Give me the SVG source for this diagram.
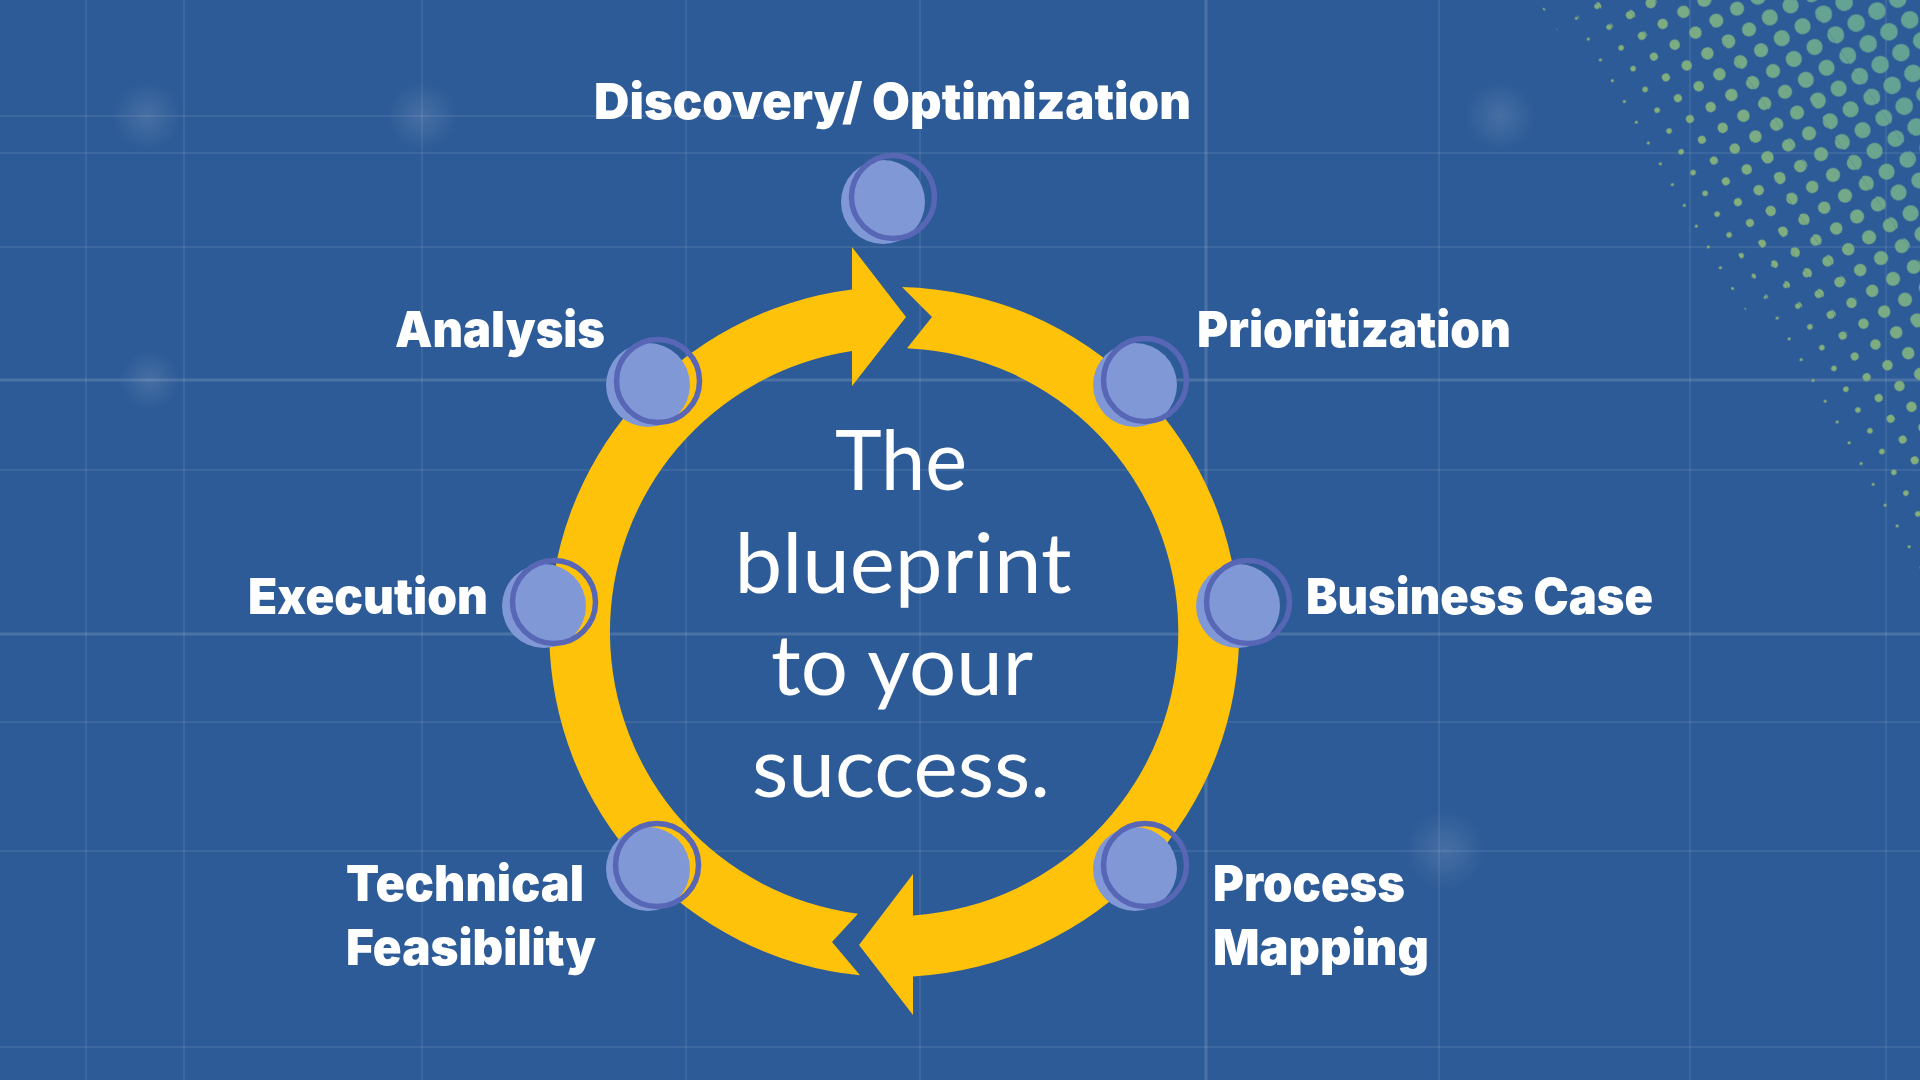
<svg xmlns="http://www.w3.org/2000/svg" width="1920" height="1080" viewBox="0 0 1920 1080">
  <style>
    .grid line { stroke: #ffffff; stroke-opacity: 0.08; stroke-width: 2; }
    .grid line.strong { stroke-opacity: 0.14; stroke-width: 3; }
    .ring { fill: #FFC20A; }
    .nfill { fill: #8099D6; }
    .nring { fill: none; stroke: #5866B6; stroke-width: 5.5; }
    .label { font-family: Inter, "Noto Sans", "Liberation Sans", sans-serif; font-weight: 900; font-size: 50px; fill: #ffffff; }
    .center { font-family: Lato, "Open Sans", "Liberation Sans", sans-serif; font-weight: 400; font-size: 84px; fill: #ffffff; text-anchor: middle; }
  </style>
  <defs>
    <radialGradient id="glow">
      <stop offset="0" stop-color="#ffffff" stop-opacity="0.12"/>
      <stop offset="1" stop-color="#ffffff" stop-opacity="0"/>
    </radialGradient>
    <linearGradient id="dotGrad" gradientUnits="userSpaceOnUse" x1="1620" y1="300" x2="1900" y2="110">
      <stop offset="0" stop-color="#9cb96a"/>
      <stop offset="1" stop-color="#64a294"/>
    </linearGradient>
    <pattern id="p0" width="24" height="24" patternUnits="userSpaceOnUse" patternTransform="rotate(-30)"><circle cx="12" cy="12" r="1.6" fill="#fff"/></pattern>
    <pattern id="p1" width="24" height="24" patternUnits="userSpaceOnUse" patternTransform="rotate(-30)"><circle cx="12" cy="12" r="2.8" fill="#fff"/></pattern>
    <pattern id="p2" width="24" height="24" patternUnits="userSpaceOnUse" patternTransform="rotate(-30)"><circle cx="12" cy="12" r="4.0" fill="#fff"/></pattern>
    <pattern id="p3" width="24" height="24" patternUnits="userSpaceOnUse" patternTransform="rotate(-30)"><circle cx="12" cy="12" r="5.2" fill="#fff"/></pattern>
    <pattern id="p4" width="24" height="24" patternUnits="userSpaceOnUse" patternTransform="rotate(-30)"><circle cx="12" cy="12" r="6.2" fill="#fff"/></pattern>
    <pattern id="p5" width="24" height="24" patternUnits="userSpaceOnUse" patternTransform="rotate(-30)"><circle cx="12" cy="12" r="7.1" fill="#fff"/></pattern>
    <pattern id="p6" width="24" height="24" patternUnits="userSpaceOnUse" patternTransform="rotate(-30)"><circle cx="12" cy="12" r="8.0" fill="#fff"/></pattern>
    <pattern id="p7" width="24" height="24" patternUnits="userSpaceOnUse" patternTransform="rotate(-30)"><circle cx="12" cy="12" r="8.8" fill="#fff"/></pattern>
    <mask id="dotMask" maskUnits="userSpaceOnUse" x="1450" y="0" width="470" height="640">
      <polygon fill="url(#p0)" points="1530,-10 1560,-10 1984,620 1954,620"/>
      <polygon fill="url(#p1)" points="1560,-10 1588,-10 2012,620 1984,620"/>
      <polygon fill="url(#p2)" points="1588,-10 1616,-10 2040,620 2012,620"/>
      <polygon fill="url(#p3)" points="1616,-10 1648,-10 2072,620 2040,620"/>
      <polygon fill="url(#p4)" points="1648,-10 1688,-10 2112,620 2072,620"/>
      <polygon fill="url(#p5)" points="1688,-10 1736,-10 2160,620 2112,620"/>
      <polygon fill="url(#p6)" points="1736,-10 1800,-10 2224,620 2160,620"/>
      <polygon fill="url(#p7)" points="1800,-10 1930,-10 2354,620 2224,620"/>
    </mask>
  </defs>

  <!-- background -->
  <rect x="0" y="0" width="1920" height="1080" fill="#2d5b97"/>
  <g class="grid">
    <line x1="0" y1="116" x2="760" y2="116"/>
    <line x1="0" y1="153" x2="1920" y2="153"/>
    <line x1="0" y1="247" x2="1920" y2="247"/>
    <line class="strong" x1="0" y1="380" x2="1920" y2="380"/>
    <line x1="0" y1="470" x2="1920" y2="470"/>
    <line class="strong" x1="0" y1="634" x2="1920" y2="634"/>
    <line x1="0" y1="722" x2="1920" y2="722"/>
    <line x1="0" y1="851" x2="1920" y2="851"/>
    <line x1="0" y1="1047" x2="1920" y2="1047"/>
    <line x1="86" y1="0" x2="86" y2="1080"/>
    <line x1="184" y1="0" x2="184" y2="1080"/>
    <line x1="422" y1="0" x2="422" y2="1080"/>
    <line x1="686" y1="0" x2="686" y2="1080"/>
    <line x1="920" y1="0" x2="920" y2="1080"/>
    <line class="strong" x1="1206" y1="0" x2="1206" y2="1080"/>
    <line x1="1439" y1="0" x2="1439" y2="1080"/>
    <line x1="1690" y1="0" x2="1690" y2="1080"/>
    <line x1="1886" y1="0" x2="1886" y2="1080"/>
  </g>
  <circle cx="147" cy="116" r="35" fill="url(#glow)"/>
  <circle cx="422" cy="116" r="35" fill="url(#glow)"/>
  <circle cx="1500" cy="116" r="35" fill="url(#glow)"/>
  <circle cx="1445" cy="850" r="40" fill="url(#glow)"/>
  <circle cx="150" cy="380" r="30" fill="url(#glow)"/>
  <rect x="1450" y="0" width="470" height="640" fill="url(#dotGrad)" mask="url(#dotMask)"/>

  <!-- connectors: the two cycle arrows -->
  <g id="connectors">
    <path id="arrow-left" class="ring" d="M 858 913.7 L 832 942 L 860 975.3 A 345 345 0 0 1 852 289.6 L 852 247 L 906 317 L 852 386 L 852 351.1 A 284 284 0 0 0 858 913.7 Z"/>
    <path id="arrow-right" class="ring" d="M 902 287.1 L 932 317 L 907 348.3 A 284 284 0 0 1 913 915.4 L 913 874 L 859 945 L 913 1015 L 913 976.5 A 345 345 0 0 0 902 287.1 Z"/>
  </g>

  <!-- center title -->
  <g id="title">
    <text class="center" x="901" y="490" textLength="132" lengthAdjust="spacingAndGlyphs">The</text>
    <text class="center" x="903" y="593" textLength="337" lengthAdjust="spacingAndGlyphs">blueprint</text>
    <text class="center" x="902" y="695" textLength="262" lengthAdjust="spacingAndGlyphs">to your</text>
    <text class="center" x="901" y="797" textLength="298" lengthAdjust="spacingAndGlyphs">success.</text>
  </g>

  <!-- nodes -->
  <g id="node-discovery">
    <circle class="nfill" cx="883" cy="202" r="42"/>
    <circle class="nring" cx="893" cy="197" r="41.5"/>
    <text class="label" x="594" y="119" textLength="597" lengthAdjust="spacingAndGlyphs">Discovery/ Optimization</text>
  </g>
  <g id="node-analysis">
    <circle class="nfill" cx="648" cy="385" r="42"/>
    <circle class="nring" cx="658" cy="381" r="41.5"/>
    <text class="label" x="395" y="347" textLength="210" lengthAdjust="spacingAndGlyphs">Analysis</text>
  </g>
  <g id="node-prioritization">
    <circle class="nfill" cx="1135" cy="385" r="42"/>
    <circle class="nring" cx="1145" cy="380" r="41.5"/>
    <text class="label" x="1197" y="347" textLength="314" lengthAdjust="spacingAndGlyphs">Prioritization</text>
  </g>
  <g id="node-execution">
    <circle class="nfill" cx="544" cy="606" r="42"/>
    <circle class="nring" cx="554" cy="602" r="41.5"/>
    <text class="label" x="248" y="614" textLength="240" lengthAdjust="spacingAndGlyphs">Execution</text>
  </g>
  <g id="node-business-case">
    <circle class="nfill" cx="1238" cy="606" r="42"/>
    <circle class="nring" cx="1248" cy="602" r="41.5"/>
    <text class="label" x="1306" y="614" textLength="347" lengthAdjust="spacingAndGlyphs">Business Case</text>
  </g>
  <g id="node-technical-feasibility">
    <circle class="nfill" cx="648" cy="869" r="42"/>
    <circle class="nring" cx="657" cy="865" r="41.5"/>
    <text class="label" x="346" y="901" textLength="238" lengthAdjust="spacingAndGlyphs">Technical</text>
    <text class="label" x="346" y="965" textLength="250" lengthAdjust="spacingAndGlyphs">Feasibility</text>
  </g>
  <g id="node-process-mapping">
    <circle class="nfill" cx="1135" cy="869" r="42"/>
    <circle class="nring" cx="1145" cy="865" r="41.5"/>
    <text class="label" x="1213" y="901" textLength="192" lengthAdjust="spacingAndGlyphs">Process</text>
    <text class="label" x="1213" y="965" textLength="216" lengthAdjust="spacingAndGlyphs">Mapping</text>
  </g>
</svg>
